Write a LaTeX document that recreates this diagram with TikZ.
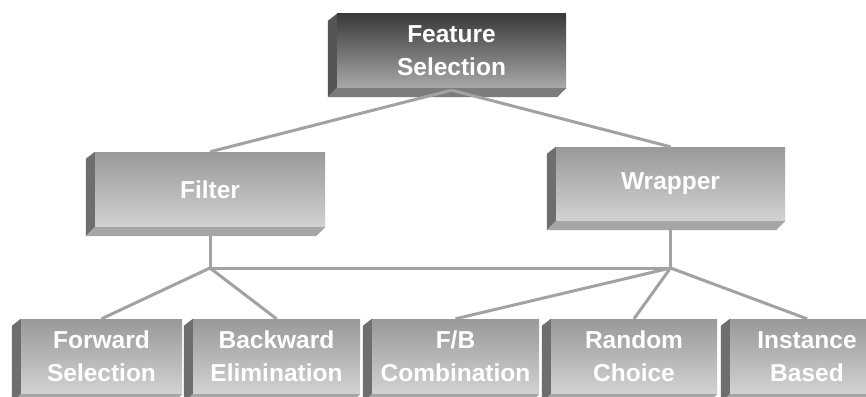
\documentclass[tikz,border=0pt]{standalone}
\usepackage{fontspec}
\setmainfont{Liberation Sans}
\pgfdeclarelayer{bg}
\pgfsetlayers{bg,main}
\definecolor{linec}{HTML}{A2A2A2}
\tikzset{
  x=1pt, y=-1pt,
  front/.style={inner sep=0pt, align=center, text=white,
    font=\fontsize{24.5}{33}\selectfont\bfseries,
    top color=#1top, bottom color=#1bot},
  frontdark/.style={front=dk, minimum width=229pt, minimum height=74pt},
  frontmid/.style={front=md, minimum height=75pt},
  conn/.style={draw=linec, line width=3pt},
}
\definecolor{dktop}{HTML}{3A3A3A}
\definecolor{dkbot}{HTML}{A8A8A8}
\definecolor{mdtop}{HTML}{999999}
\definecolor{mdbot}{HTML}{D2D2D2}
\definecolor{dkleft}{HTML}{555555}
\definecolor{dkunder}{HTML}{7C7C7C}
\definecolor{mdleft}{HTML}{6E6E6E}
\definecolor{mdunder}{HTML}{A6A6A6}
\newcommand\boxfaces[3]{%
  \fill[#2] (#1.north west) -- ++(-9,7) -- ([shift={(-9,9)}]#1.south west) -- (#1.south west) -- cycle;
  \fill[#3] (#1.south west) -- ++(-9,9) -- ([shift={(-9,9)}]#1.south east) -- (#1.south east) -- cycle;}
\begin{document}
\begin{tikzpicture}
\useasboundingbox (0,0) rectangle (866,396);
\clip (0,0) rectangle (866,396);
% front faces
\node[frontdark] (fs) at (451.5,51) {Feature\\Selection};
\node[frontmid, minimum width=230pt] (filter) at (210,189.5) {Filter};
\node[frontmid, minimum width=229pt, minimum height=74pt] (wrapper) at (670.5,184) {Wrapper};
\node[frontmid, minimum width=161pt] (fwd) at (101.5,356.5) {Forward\\Selection};
\node[frontmid, minimum width=167pt] (bwd) at (276.5,356.5) {Backward\\Elimination};
\node[frontmid, minimum width=167pt] (fb) at (455.5,356.5) {F/B\\Combination};
\node[frontmid, minimum width=166pt] (rnd) at (634,356.5) {Random\\Choice};
\node[frontmid, minimum width=154pt] (inst) at (807,356.5) {Instance\\Based};
% side and bottom faces
\boxfaces{fs}{dkleft}{dkunder}
\foreach \n in {filter,wrapper,fwd,bwd,fb,rnd,inst}{\boxfaces{\n}{mdleft}{mdunder}}
% connectors
\coordinate (jf) at (filter.south |- 0,268);
\coordinate (jw) at (wrapper.south |- 0,268);
\coordinate (fsj) at ([yshift=-2pt]fs.south);
\draw[conn] (fsj) -- (filter.north);
\draw[conn] (fsj) -- (wrapper.north);
\begin{pgfonlayer}{bg}
\fill[white] (0,0) rectangle (866,396);
\draw[conn] (filter.south) -- (jf);
\draw[conn] (wrapper.south) -- (jw);
\draw[conn] (jf) -- (jw);
\draw[conn] (jf) -- (fwd.north);
\draw[conn] (jf) -- (bwd.north);
\draw[conn] (jw) -- (fb.north);
\draw[conn] (jw) -- (rnd.north);
\draw[conn] (jw) -- (inst.north);
\end{pgfonlayer}
\end{tikzpicture}
\end{document}
